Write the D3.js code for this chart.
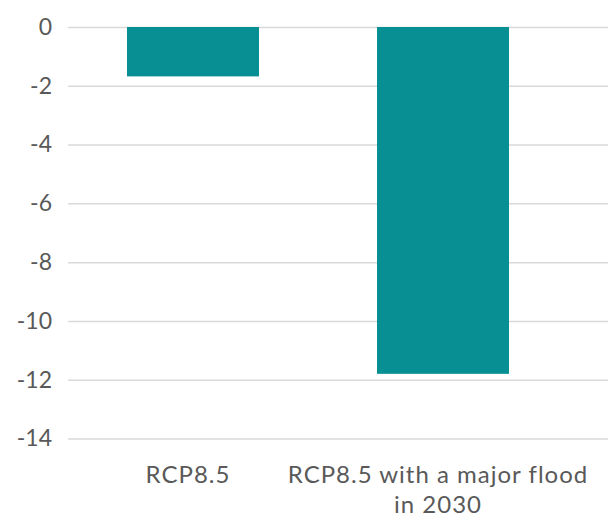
<!DOCTYPE html>
<html>
<head>
<meta charset="utf-8">
<script src="https://cdn.jsdelivr.net/npm/d3@7"></script>
<style>
  body { margin: 0; background: #fff; }
  text { font-family: "Lato", "Open Sans", sans-serif; fill: #595959; }
</style>
</head>
<body>
<div id="chart"></div>
<script>
//Data

const categories = [["RCP8.5"], ["RCP8.5 with a major flood", "in 2030"]];
const values = [-1.68, -11.8];
const yTicks = [0, -2, -4, -6, -8, -10, -12, -14];

//Size

const width = 608, height = 518;
const plotLeft = 68, plotRight = 568, gridRight = 608;
const yTop = 27, yBottom = 438.5;

const svg = d3.select("#chart")
  .append("svg")
  .attr("width", width)
  .attr("height", height);

//Scales

const x = d3.scaleBand()
  .domain(d3.range(values.length))
  .range([plotLeft, plotRight])
  .paddingInner(0.472)
  .paddingOuter(0.236);

const y = d3.scaleLinear()
  .domain([0, -14])
  .range([yTop, yBottom]);

//Gridlines + tick labels (plain hyphen for the minus, like the original)

const yAxis = svg.append("g")
  .attr("transform", `translate(${plotLeft},0)`)
  .call(d3.axisLeft(y)
    .tickValues(yTicks)
    .tickFormat(d => String(d))
    .tickSize(-(gridRight - plotLeft))
    .tickPadding(16));

yAxis.select(".domain").remove();
yAxis.selectAll(".tick line").attr("stroke", "#d9d9d9").attr("stroke-width", 1.5);
yAxis.selectAll(".tick text")
  .attr("font-size", 23)
  .style("font-family", "Lato, 'Open Sans', sans-serif")
  .attr("fill", "#595959");

//Bars

svg.selectAll("rect.bar")
  .data(values)
  .enter().append("rect")
  .attr("class", "bar")
  .attr("x", (d, i) => x(i))
  .attr("width", x.bandwidth())
  .attr("y", d => y(0))
  .attr("height", d => y(d) - y(0))
  .attr("fill", "#078f94");

//Category labels (sit a few px left of the bar centres in the original)

const labels = svg.selectAll("text.cat")
  .data(categories)
  .enter().append("text")
  .attr("class", "cat")
  .attr("text-anchor", "middle")
  .attr("font-size", 24)
  .attr("letter-spacing", 1)
  .attr("x", (d, i) => x(i) + x.bandwidth() / 2 - 5)
  .attr("y", 483);

labels.selectAll("tspan")
  .data(d => d)
  .enter().append("tspan")
  .attr("x", function() { return this.parentNode.getAttribute("x"); })
  .attr("dy", (d, i) => i === 0 ? 0 : 30)
  .text(d => d);
</script>
</body>
</html>
